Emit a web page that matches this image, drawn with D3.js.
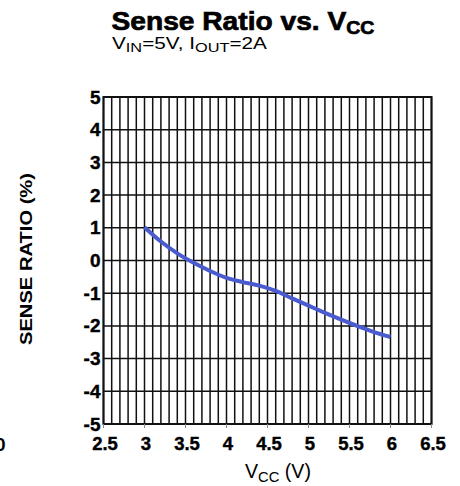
<!DOCTYPE html>
<html>
<head>
<meta charset="utf-8">
<script src="https://cdn.jsdelivr.net/npm/d3@7/dist/d3.min.js"></script>
<style>
  html, body { margin: 0; padding: 0; background: #fff; }
  svg { display: block; font-family: "Liberation Sans", Arial, sans-serif; }
</style>
</head>
<body>
<svg id="chart" width="460" height="486"></svg>
<script>
// ---- data ----
const vcc = [3.0, 3.2, 3.4, 3.6, 3.8, 4.0, 4.2, 4.4, 4.6, 4.8, 5.0, 5.2, 5.4, 5.6, 5.8, 6.0];
const senseRatio = [1.02, 0.58, 0.22, -0.07, -0.32, -0.53, -0.66, -0.77, -0.93, -1.16, -1.38, -1.60, -1.81, -2.01, -2.19, -2.34];
const xTicks = [2.5, 3, 3.5, 4, 4.5, 5, 5.5, 6, 6.5];
const yTicks = [5, 4, 3, 2, 1, 0, -1, -2, -3, -4, -5];
const xDomain = [2.5, 6.5];
const yDomain = [-5, 5];
const xMinorStep = 0.1;

(function () {
const svg = d3.select("#chart");
const pLeft = 103.5, pRight = 431.5, pTop = 97, pBottom = 424;

const x = d3.scaleLinear().domain(xDomain).range([pLeft, pRight]);
const y = d3.scaleLinear().domain(yDomain).range([pBottom, pTop]);

// stretch a text horizontally so that it spans the given width starting at x0
function fitWidth(g, x0, width) {
  const bb = g.node().getBBox();
  const s = width / bb.width;
  g.attr("transform", `translate(${x0},0) scale(${s},1) translate(${-bb.x},0)`);
}

// minor vertical gridlines
const nMinor = Math.round((xDomain[1] - xDomain[0]) / xMinorStep);
const xMinor = d3.range(nMinor + 1).map(i => xDomain[0] + i * xMinorStep);

const grid = svg.append("g");
grid.selectAll("line.v").data(xMinor).join("line")
  .attr("class", "v")
  .attr("x1", d => x(d)).attr("x2", d => x(d))
  .attr("y1", pTop).attr("y2", pBottom)
  .attr("stroke", "#111").attr("stroke-width", 1.5);
grid.selectAll("line.h").data(yTicks).join("line")
  .attr("class", "h")
  .attr("x1", pLeft).attr("x2", pRight)
  .attr("y1", d => y(d)).attr("y2", d => y(d))
  .attr("stroke", "#111").attr("stroke-width", 1.5);

// border
svg.append("rect")
  .attr("x", pLeft).attr("y", pTop)
  .attr("width", pRight - pLeft).attr("height", pBottom - pTop)
  .attr("fill", "none").attr("stroke", "#111").attr("stroke-width", 2);

// small outward tick marks on x axis
svg.append("g").selectAll("line").data(xTicks).join("line")
  .attr("x1", d => x(d)).attr("x2", d => x(d))
  .attr("y1", pBottom).attr("y2", pBottom + 4)
  .attr("stroke", "#888").attr("stroke-width", 1);

// axis tick labels
svg.append("g").selectAll("text").data(yTicks).join("text")
  .attr("x", pLeft - 3)
  .attr("y", d => y(d) + 6.5)
  .attr("text-anchor", "end")
  .attr("font-weight", "bold")
  .attr("font-size", 19)
  .attr("fill", "#000").attr("stroke", "#000").attr("stroke-width", 0.4)
  .text(d => d);

svg.append("g").selectAll("text").data(xTicks).join("text")
  .attr("x", d => x(d) + 1.5)
  .attr("y", 450)
  .attr("text-anchor", "middle")
  .attr("font-weight", "bold")
  .attr("font-size", 18.5)
  .attr("fill", "#000").attr("stroke", "#000").attr("stroke-width", 0.4)
  .text(d => d);

// clipped label from a neighbouring chart at left edge
svg.append("text")
  .attr("x", 5.5).attr("y", 451)
  .attr("text-anchor", "end")
  .attr("font-weight", "bold").attr("font-size", 18.5)
  .text("0");

// data line
const pts = vcc.map((v, i) => [v, senseRatio[i]]);
svg.append("path")
  .datum(pts)
  .attr("fill", "none")
  .attr("stroke", "#4a5bcf")
  .attr("stroke-width", 4)
  .attr("d", d3.line().x(d => x(d[0])).y(d => y(d[1])).curve(d3.curveMonotoneX));

// title
const tg = svg.append("g");
const title = tg.append("text")
  .attr("x", 0).attr("y", 30)
  .attr("font-weight", "bold").attr("font-size", 26)
  .attr("fill", "#000").attr("stroke", "#000").attr("stroke-width", 0.7);
title.append("tspan").text("Sense Ratio vs. V");
title.append("tspan").attr("font-size", 18).attr("dy", 4).text("CC");
fitWidth(tg, 111.5, 263);

const sg = svg.append("g");
const sub = sg.append("text")
  .attr("x", 0).attr("y", 49)
  .attr("font-size", 16.5).attr("fill", "#000");
sub.append("tspan").text("V");
sub.append("tspan").attr("font-size", 13).attr("dy", 3).text("IN");
sub.append("tspan").attr("dy", -3).text("=5V, I");
sub.append("tspan").attr("font-size", 13).attr("dy", 3).text("OUT");
sub.append("tspan").attr("dy", -3).text("=2A");
fitWidth(sg, 112, 155);

// axis titles
const xg = svg.append("g");
const xl = xg.append("text")
  .attr("x", 0).attr("y", 478)
  .attr("font-size", 20).attr("fill", "#000");
xl.append("tspan").text("V");
xl.append("tspan").attr("font-size", 15).attr("dy", 4).text("CC");
xl.append("tspan").attr("dy", -4).text(" (V)");
fitWidth(xg, 245, 66);

svg.append("text")
  .attr("transform", "translate(31.5,259) rotate(-90)")
  .attr("text-anchor", "middle")
  .attr("font-weight", "bold").attr("font-size", 16)
  .attr("textLength", 172).attr("lengthAdjust", "spacingAndGlyphs")
  .attr("fill", "#000")
  .text("SENSE RATIO (%)");
})();
</script>
</body>
</html>
